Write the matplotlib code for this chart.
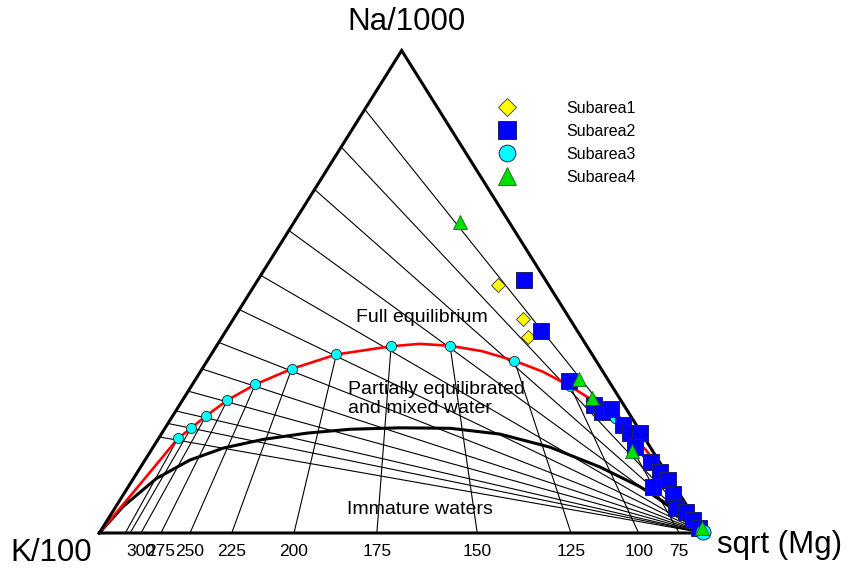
import matplotlib
matplotlib.use("Agg")
import matplotlib.pyplot as plt
from matplotlib.lines import Line2D

plt.rcParams['font.family'] = ['Liberation Sans', 'DejaVu Sans']

# isotherm temperatures (deg C); 340 and 320 carry no label
temps = [340, 320, 300, 275, 250, 225, 200, 175, 150, 125, 100, 75]
tick_labels = ['', '', '300', '275', '250', '225', '200', '175', '150', '125', '100', '75']

# full-equilibrium points (Na %, sqrt(Mg) %, K is the rest)
eq_na = [19.6, 21.7, 24.2, 27.5, 30.8, 34.0, 37.0, 38.7, 38.8, 35.7, 30.4, 23.8]
eq_mg = [3.2, 4.3, 5.5, 7.4, 10.4, 14.8, 20.7, 28.9, 38.6, 50.8, 62.7, 73.4]

# K-Mg isotherms meet the K - sqrt(Mg) side here (sqrt(Mg) %)
base_mg = [4.3, 5.1, 6.9, 10.2, 15.0, 21.9, 32.2, 45.9, 62.5, 78.0, 89.2, 95.9]
# Na-K isotherms meet the Na - K side here (Na %)
side_na = [19.9, 22.7, 25.3, 29.4, 34.0, 39.5, 46.3, 53.4, 62.7, 71.2, 80.0, 87.8]

# full equilibrium curve (Na %, sqrt(Mg) %)
red_na = [0, 10.2, 19.6, 21.7, 24.2, 27.5, 30.8, 34.0, 37.0, 38.7, 39.2, 38.8,
          37.7, 35.7, 33.4, 30.4, 27.4, 23.8, 17.2, 8.9, 0]
red_mg = [0, 1.7, 3.2, 4.3, 5.5, 7.4, 10.4, 14.8, 20.7, 28.9, 33.4, 38.6,
          44.4, 50.8, 56.7, 62.7, 68.0, 73.4, 81.8, 90.9, 100]

# immature water boundary (Na %, sqrt(Mg) %)
imm_na = [0, 5.5, 11.3, 15.1, 17.6, 19.4, 20.7, 21.5, 21.8, 21.7, 20.5, 17.8, 13.7, 9.6, 5.6, 0]
imm_mg = [0, 1.2, 3.8, 7.4, 11.7, 17.4, 24.0, 30.7, 38.8, 47.2, 56.0, 65.6, 75.9, 84.6, 91.6, 100]

# samples (Na/1000 %, sqrt(Mg) %)
s1_na = [51.4, 44.4, 40.7]
s1_mg = [40.2, 47.9, 50.5]
s2_na = [52.4, 41.9, 31.4, 26.6, 25.1, 25.8, 22.4, 20.7, 20.7, 17.9, 14.8, 12.6,
         11.0, 9.6, 8.1, 5.1, 4.4, 2.7, 1.0]
s2_mg = [44.0, 52.1, 61.9, 68.5, 70.5, 71.8, 75.4, 77.4, 79.0, 79.6, 83.8, 86.4,
         88.6, 86.7, 90.8, 92.9, 94.9, 96.9, 98.6]
s3_na = [0.3]
s3_mg = [99.7]
s4_na = [64.5, 32.0, 27.9, 16.9, 1.0]
s4_mg = [27.4, 63.3, 67.5, 79.6, 99.1]


def xy(na, mg):
    na = [v / 100 for v in na]
    mg = [v / 100 for v in mg]
    return [m + 0.5 * n for n, m in zip(na, mg)], na


fig = plt.figure(figsize=(8.51, 5.68), dpi=100)
ax = fig.add_axes([99.3 / 851, 35 / 568, 604.7 / 851, 482.5 / 568])
ax.set_xlim(0, 1)
ax.set_ylim(0, 1)
ax.axis('off')

# Na-K isotherms: from the Na-K side to the sqrt(Mg) corner
for n in side_na:
    x, y = xy([n, 0], [0, 100])
    ax.plot(x, y, color='black', lw=0.8, zorder=2)

# K-Mg isotherms: from the equilibrium point down to the base
for n, m, b in zip(eq_na, eq_mg, base_mg):
    x, y = xy([n, 0], [m, b])
    ax.plot(x, y, color='black', lw=0.8, zorder=2)

x, y = xy(imm_na, imm_mg)
ax.plot(x, y, color='black', lw=2.2, zorder=3)
x, y = xy(red_na, red_mg)
ax.plot(x, y, color='red', lw=1.9, zorder=3)
x, y = xy(eq_na, eq_mg)
ax.plot(x, y, 'o', ms=7.3, mfc='cyan', mec='#222222', mew=0.6, zorder=4)

# triangle frame
x, y = xy([0, 0, 100, 0], [0, 100, 0, 0])
ax.plot(x, y, color='black', lw=2.2, zorder=5, solid_joinstyle='miter', clip_on=False)

for b, lab in zip(base_mg, tick_labels):
    ax.text(b / 100, -0.038, lab, ha='center', va='center', fontsize=12.5)

x, y = xy(s1_na, s1_mg)
ax.plot(x, y, 'D', ms=7.3, mfc='yellow', mec='#333333', mew=0.6, ls='none', zorder=6, clip_on=False)
x, y = xy(s2_na, s2_mg)
ax.plot(x, y, 's', ms=11.8, mfc='blue', mec='#202060', mew=0.7, ls='none', zorder=6, clip_on=False)
x, y = xy(s3_na, s3_mg)
ax.plot(x, y, 'o', ms=10.8, mfc='cyan', mec='#202060', mew=0.7, ls='none', zorder=6, clip_on=False)
x, y = xy(s4_na, s4_mg)
ax.plot(x, y, '^', ms=10.5, mfc='#00e000', mec='#206020', mew=0.6, ls='none', zorder=7, clip_on=False)

fig.text(407 / 851, 1 - 22 / 568, 'Na/1000', ha='center', va='center', fontsize=22.5)
fig.text(10 / 851, 1 - 553 / 568, 'K/100', ha='left', va='center', fontsize=22.5)
fig.text(717 / 851, 1 - 545 / 568, 'sqrt (Mg)', ha='left', va='center', fontsize=22.5)

fig.text(422 / 851, 1 - 317 / 568, 'Full equilibrium', ha='center', va='center', fontsize=14)
fig.text(348 / 851, 1 - 399 / 568, 'Partially equilibrated\nand mixed water', ha='left', va='center',
         fontsize=14, linespacing=1.1)
fig.text(420 / 851, 1 - 509 / 568, 'Immature waters', ha='center', va='center', fontsize=14)

handles = [
    Line2D([], [], marker='D', ls='none', ms=9.2, mfc='yellow', mec='#333333', mew=0.6),
    Line2D([], [], marker='s', ls='none', ms=13, mfc='blue', mec='#202060', mew=0.7),
    Line2D([], [], marker='o', ms=12, ls='none', mfc='cyan', mec='#202060', mew=0.7),
    Line2D([], [], marker='^', ms=12.7, ls='none', mfc='#00e000', mec='#206020', mew=0.6),
]
fig.legend(handles, ['Subarea1', 'Subarea2', 'Subarea3', 'Subarea4'],
           loc='upper left', bbox_to_anchor=(495 / 851, 1 - 101 / 568), frameon=False,
           borderpad=0, borderaxespad=0, handlelength=1.5, handletextpad=2.94,
           labelspacing=0.5, fontsize=11.5)

fig.savefig('out.png', dpi=100)
